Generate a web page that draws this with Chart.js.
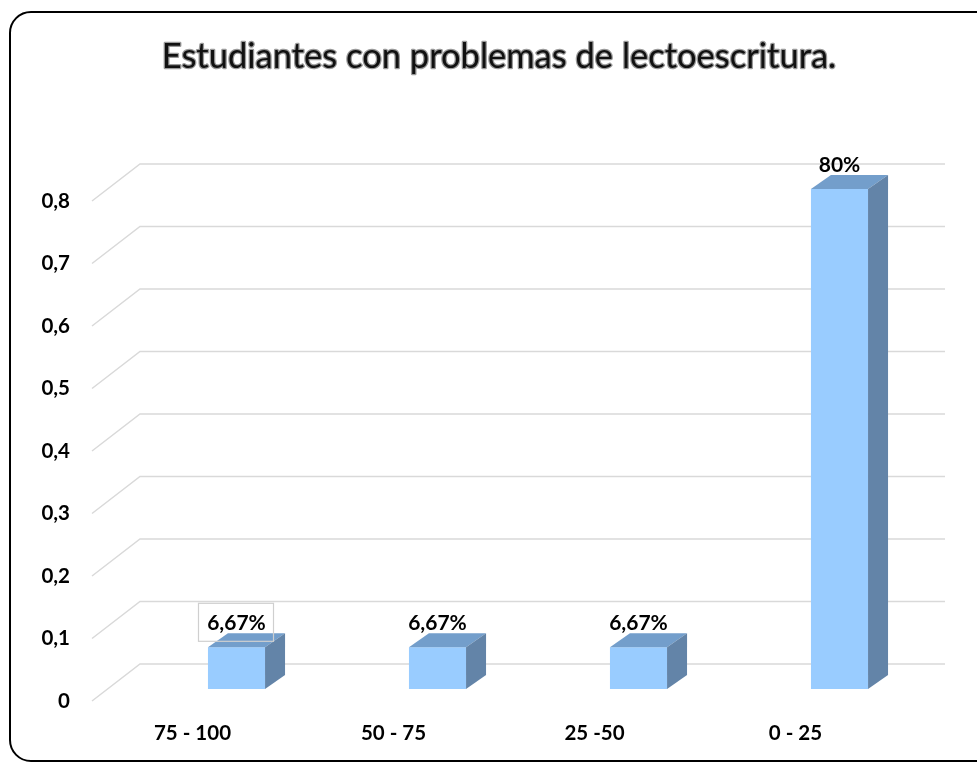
<!DOCTYPE html>
<html>
<head>
<meta charset="utf-8">
<script src="https://cdn.jsdelivr.net/npm/chart.js@4.4.1/dist/chart.umd.min.js"></script>
<style>
  html, body { margin: 0; padding: 0; background: #fff; overflow: hidden; }
  #wrap { position: relative; width: 977px; height: 762px; }
  #frame {
    position: absolute; left: 9px; top: 11px; width: 1020px; height: 747px;
    border: 2px solid #000; border-radius: 22px; pointer-events: none;
  }
  canvas { position: absolute; left: 0; top: 0; }
</style>
</head>
<body>
<div id="wrap">
  <canvas id="chart" width="977" height="762"></canvas>
  <div id="frame"></div>
</div>
<script>
// Datos
const chartTitle = 'Estudiantes con problemas de lectoescritura.';
const categories = ['75 - 100', '50 - 75', '25 -50', '0 - 25'];
const values = [0.0667, 0.0667, 0.0667, 0.8];
const valueLabels = ['6,67%', '6,67%', '6,67%', '80%'];

const fontFamily = "Lato, 'Open Sans', sans-serif";
const labelFont = "bold 21px " + fontFamily;
const depthX = 20, depthY = -14;     // profundidad de la barra
const wallBack = 25, wallFront = 12; // desplazamiento de las líneas de la cuadrícula

// Cuadrícula en perspectiva (pared y suelo)
const gridPlugin = {
  id: 'grid3d',
  beforeDatasetsDraw(chart) {
    const { ctx, chartArea, scales: { y } } = chart;
    ctx.save();
    ctx.strokeStyle = '#d9d9d9';
    ctx.lineWidth = 1.5;
    y.ticks.forEach(t => {
      const py = y.getPixelForValue(t.value);
      ctx.beginPath();
      ctx.moveTo(92, py + wallFront);
      ctx.lineTo(chartArea.left + 4, py - wallBack);
      ctx.lineTo(chartArea.right + 5, py - wallBack);
      ctx.stroke();
    });
    ctx.restore();
  }
};

// Caras superior y lateral de las barras + etiquetas
const barPlugin = {
  id: 'bars3d',
  afterDatasetsDraw(chart) {
    const { ctx } = chart;
    const meta = chart.getDatasetMeta(0);
    ctx.save();
    meta.data.forEach((bar, i) => {
      const x0 = bar.x - bar.width / 2, x1 = bar.x + bar.width / 2;
      const yt = bar.y, yb = bar.base;
      ctx.fillStyle = '#739ecb';
      ctx.beginPath();
      ctx.moveTo(x0, yt);
      ctx.lineTo(x0 + depthX, yt + depthY);
      ctx.lineTo(x1 + depthX, yt + depthY);
      ctx.lineTo(x1, yt);
      ctx.closePath();
      ctx.fill();
      ctx.fillStyle = '#6384a8';
      ctx.beginPath();
      ctx.moveTo(x1, yt);
      ctx.lineTo(x1 + depthX, yt + depthY);
      ctx.lineTo(x1 + depthX, yb + depthY);
      ctx.lineTo(x1, yb);
      ctx.closePath();
      ctx.fill();

      ctx.font = labelFont;
      ctx.fillStyle = '#000';
      ctx.textAlign = 'center';
      ctx.textBaseline = 'middle';
      const ly = yt - 24;
      ctx.fillText(valueLabels[i], bar.x, ly);
      if (i === 0) {
        ctx.strokeStyle = '#cfcfcf';
        ctx.lineWidth = 1.2;
        ctx.strokeRect(bar.x - 38, ly - 20, 75, 38);
      }
    });
    ctx.restore();
  }
};

// Título con contorno
const titlePlugin = {
  id: 'titleOutline',
  afterDraw(chart) {
    const { ctx } = chart;
    ctx.save();
    ctx.font = "34.5px " + fontFamily;
    ctx.textAlign = 'center';
    ctx.textBaseline = 'middle';
    ctx.lineJoin = 'round';
    ctx.strokeStyle = '#9a9a9a';
    ctx.lineWidth = 2.5;
    ctx.strokeText(chartTitle, 499, 57);
    ctx.fillStyle = '#111';
    ctx.fillText(chartTitle, 499, 57);
    ctx.restore();
  }
};

new Chart(document.getElementById('chart'), {
  type: 'bar',
  data: {
    labels: categories,
    datasets: [{
      data: values,
      backgroundColor: '#99ccff',
      borderWidth: 0,
      categoryPercentage: 1,
      barPercentage: 0.284
    }]
  },
  options: {
    responsive: false,
    animation: false,
    devicePixelRatio: 1,
    layout: { autoPadding: false, padding: { top: 189, right: 37, bottom: 0, left: 0 } },
    plugins: {
      legend: { display: false },
      title: { display: false },
      tooltip: { enabled: false }
    },
    scales: {
      x: {
        grid: { display: false, drawTicks: false },
        border: { display: false },
        ticks: {
          color: '#000',
          font: { family: fontFamily, size: 20.5, weight: 'bold' },
          padding: 32,
          labelOffset: -44,
          maxRotation: 0
        },
        afterFit: s => { s.height = 73; }
      },
      y: {
        min: 0,
        max: 0.8,
        grid: { display: false, drawTicks: false },
        border: { display: false },
        ticks: {
          stepSize: 0.1,
          color: '#000',
          font: { family: fontFamily, size: 20.5, weight: 'bold' },
          padding: 66,
          labelOffset: 12,
          callback: v => String(Math.round(v * 10) / 10).replace('.', ',')
        },
        afterFit: s => { s.width = 136; s.paddingTop = 0; s.paddingBottom = 0; }
      }
    }
  },
  plugins: [gridPlugin, barPlugin, titlePlugin]
});
</script>
</body>
</html>
